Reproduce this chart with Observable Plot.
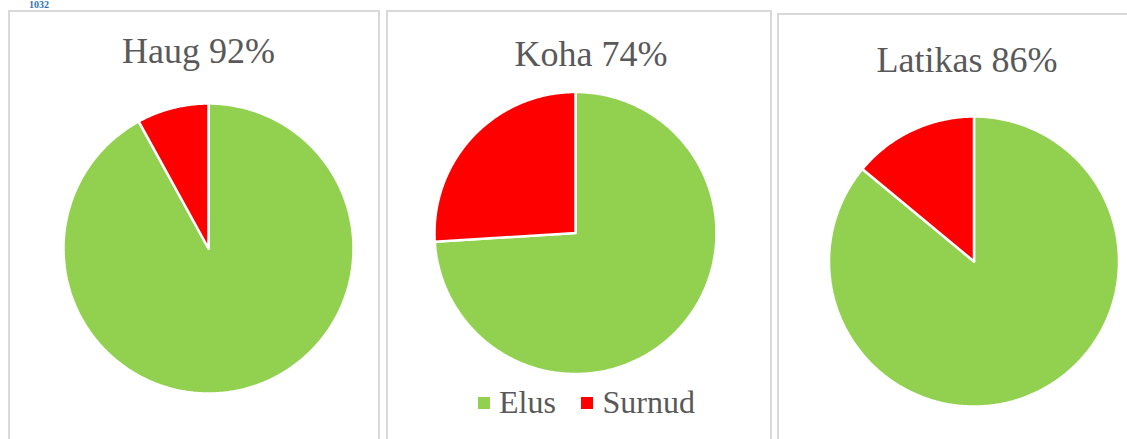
<!DOCTYPE html>
<html><head><meta charset="utf-8">
<script src="https://cdn.jsdelivr.net/npm/d3@7"></script>
<script src="https://cdn.jsdelivr.net/npm/@observablehq/plot@0.6"></script>
<style>
html,body{margin:0;padding:0;background:#fff;}
body{position:relative;width:1127px;height:439px;overflow:hidden;font-family:"Liberation Serif","Times New Roman",serif;}
.panel{position:absolute;border:2px solid #d9d9d9;box-sizing:border-box;background:#fff;}
.title{position:absolute;font-family:"Liberation Serif",serif;color:#595959;font-size:36px;line-height:36px;white-space:nowrap;transform:translateX(-50%);}
.leg{position:absolute;font-family:"Liberation Serif",serif;color:#595959;font-size:32px;line-height:32px;white-space:nowrap;}
.sw{position:absolute;width:12px;height:12px;}
.tag{position:absolute;z-index:5;left:29px;top:0px;font-family:"Liberation Serif",serif;font-size:10px;line-height:9px;font-weight:bold;color:#2e74b5;}
</style>
</head><body>
<div class="tag">1032</div>
<script>
// ---- data ----
const charts = ["Haug", "Koha", "Latikas"];
const elus = [92, 74, 86];
const surnud = [8, 26, 14];
const categories = ["Elus", "Surnud"];
const colors = ["#92d050", "#ff0000"];

// ---- layout ----
const panels = [
  {left: 8, top: 10, width: 372},
  {left: 386, top: 10, width: 386},
  {left: 777, top: 13, width: 360}
];
const pies = [
  {cx: 208, cy: 248, r: 145},
  {cx: 575, cy: 232.5, r: 141},
  {cx: 973.5, cy: 261, r: 145}
];
const titles = [
  {x: 198.5, top: 33},
  {x: 591, top: 36},
  {x: 967, top: 42}
];

charts.forEach((name, i) => {
  const P = panels[i], G = pies[i], T = titles[i];
  const div = document.createElement("div");
  div.className = "panel";
  Object.assign(div.style, {left: P.left + "px", top: P.top + "px", width: P.width + "px", height: (460 - P.top) + "px"});
  document.body.appendChild(div);

  const values = [elus[i], surnud[i]];
  const arcs = d3.pie().sort(null)(values);
  const pts = [];
  arcs.forEach((a, k) => {
    const cat = categories[k];
    pts.push({cat, x: 0, y: 0});
    const n = Math.max(2, Math.ceil((a.endAngle - a.startAngle) / (Math.PI / 360)));
    for (let j = 0; j <= n; j++) {
      const t = a.startAngle + (a.endAngle - a.startAngle) * j / n;
      pts.push({cat, x: Math.sin(t), y: Math.cos(t)});
    }
    pts.push({cat, x: 0, y: 0});
  });

  const svg = Plot.plot({
    width: P.width, height: 439, margin: 0,
    x: {domain: [-1, 1], range: [G.cx - G.r - P.left, G.cx + G.r - P.left], axis: null},
    y: {domain: [-1, 1], range: [G.cy + G.r, G.cy - G.r], axis: null},
    color: {domain: categories, range: colors},
    style: {background: "transparent", overflow: "visible"},
    marks: [
      Plot.line(pts, {x: "x", y: "y", z: "cat", fill: "cat", stroke: "white", strokeWidth: 2.5, strokeLinejoin: "miter"})
    ]
  });
  svg.style.position = "absolute";
  svg.style.left = P.left + "px";
  svg.style.top = "0px";
  document.body.appendChild(svg);

  const t = document.createElement("div");
  t.className = "title";
  t.textContent = `${name} ${elus[i]}%`;
  t.style.left = T.x + "px";
  t.style.top = T.top + "px";
  document.body.appendChild(t);
});

// legend
const legPos = [{sw: 478, tx: 499}, {sw: 581, tx: 602.5}];
categories.forEach((c, k) => {
  const s = document.createElement("div");
  s.className = "sw";
  s.style.left = legPos[k].sw + "px";
  s.style.top = "397px";
  s.style.background = colors[k];
  document.body.appendChild(s);
  const l = document.createElement("div");
  l.className = "leg";
  l.textContent = c;
  l.style.left = legPos[k].tx + "px";
  l.style.top = "386px";
  document.body.appendChild(l);
});
</script>
</body></html>
